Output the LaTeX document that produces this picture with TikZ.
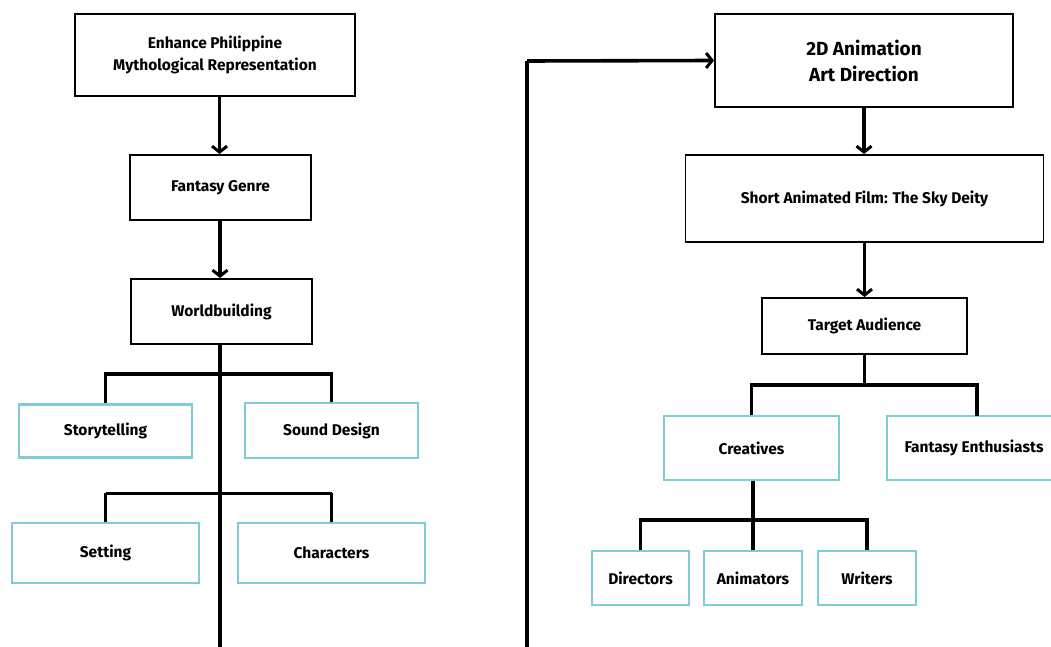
\documentclass[tikz,border=0pt]{standalone}
\usepackage{fontspec}
\setmainfont{Fira Sans}
\usetikzlibrary{arrows.meta}
\definecolor{boxcyan}{RGB}{128,204,214}
\begin{document}
\begin{tikzpicture}[x=1pt,y=-1pt,
  txt/.style={align=center, inner sep=0pt, font=\bfseries\fontsize{15.5}{22}\selectfont},
  blk/.style={txt, draw=black, line width=1.9pt, fill=white},
  cyn/.style={txt, draw=boxcyan, line width=2.1pt, fill=white},
  conn/.style={line width=3.6pt},
  arr/.style={line width=3.6pt, -{Straight Barb[length=6pt,width=15pt,line width=3pt]}}
]
\useasboundingbox (0,0) rectangle (1051,647);
\fill[white] (0,0) rectangle (1051,647);

% left column
\node[blk, minimum width=280pt, minimum height=82pt] (enh) at (215,55) {Enhance Philippine\\Mythological Representation};
\node[blk, minimum width=181pt, minimum height=65pt] (fan) at (220.5,187.5) {Fantasy Genre};
\node[blk, minimum width=181pt, minimum height=65pt] (wor) at (221.5,311.5) {Worldbuilding};
\node[cyn, minimum width=173pt, minimum height=53pt] (sto) at (105.5,431) {Storytelling};
\node[cyn, minimum width=173pt, minimum height=55pt] (sou) at (331.5,430.5) {Sound Design};
\node[cyn, minimum width=187pt, minimum height=60pt] (set) at (105.5,553) {Setting};
\node[cyn, minimum width=187pt, minimum height=60pt] (cha) at (331.5,553) {Characters};

% right column
\node[blk, minimum width=298pt, minimum height=93pt, font=\bfseries\fontsize{19}{26}\selectfont] (art) at (864,60.5) {2D Animation\\Art Direction};
\node[blk, minimum width=358pt, minimum height=87pt] (sho) at (864.5,198.5) {Short Animated Film: The Sky Deity};
\node[blk, minimum width=205pt, minimum height=56pt] (tar) at (864.5,326) {Target Audience};
\node[cyn, minimum width=175pt, minimum height=64pt] (cre) at (751.5,448) {Creatives};
\node[cyn, minimum width=174pt, minimum height=64pt] (ent) at (974,448) {Fantasy Enthusiasts};
\node[cyn, minimum width=97pt, minimum height=54pt] (dir) at (640.5,578) {Directors};
\node[cyn, minimum width=98pt, minimum height=54pt] (ani) at (753,578) {Animators};
\node[cyn, minimum width=98pt, minimum height=54pt] (wri) at (867,578) {Writers};

% junction coordinates
\coordinate (b1) at (220,374);
\coordinate (b2) at (220,493);
\coordinate (b3) at (864.5,385);
\coordinate (b4) at (753,520);
\coordinate (lb) at (220,649.5);
\coordinate (rb) at (527,649.5);
\coordinate (rt) at (527,61);

% arrows
\draw[arr] ([xshift=-1pt]enh.south -| fan.north) -- ([xshift=-1pt]fan.north);
\draw[arr] ([xshift=-0.5pt]fan.south) -- ([xshift=-0.5pt]fan.south |- wor.north);
\draw[arr] (art.south) -- (art.south |- sho.north);
\draw[arr] (sho.south) -- (tar.north);

% left tree
\draw[conn] ([xshift=-1.5pt]wor.south) -- (lb) -- (rb) -- (rt);
\draw[arr] (rt) -- (art.west);
\draw[conn] (sto.north) -- (sto.north |- b1) -- (sou.north |- b1) -- (sou.north);
\draw[conn] ([yshift=-0.5pt]sto.north |- b2) -- ([yshift=-0.5pt]cha.north |- b2);
\draw[conn] (set.north |- b2) -- (set.north);
\draw[conn] (cha.north |- b2) -- (cha.north);

% right tree
\draw[conn] (tar.south) -- (b3);
\draw[conn] (cre.north) -- (cre.north |- b3) -- (977,385) -- (977,416);
\draw[conn] (b4 |- cre.south) -- (b4);
\draw[conn] (dir.north) -- (dir.north |- b4) -- (wri.north |- b4) -- (wri.north);
\draw[conn] (b4) -- (ani.north);
\end{tikzpicture}
\end{document}
